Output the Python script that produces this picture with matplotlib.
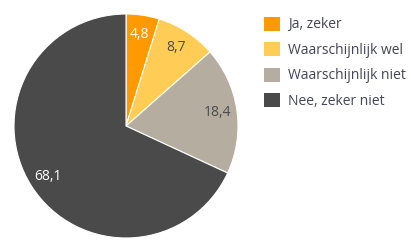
import matplotlib
matplotlib.use("Agg")
import numpy as np
from matplotlib import pyplot as plt
from matplotlib.patches import Patch

labels = ["Ja, zeker", "Waarschijnlijk wel", "Waarschijnlijk niet", "Nee, zeker niet"]
values = [4.8, 8.7, 18.4, 68.1]
value_labels = ["4,8", "8,7", "18,4", "68,1"]
colors = ["#ff9900", "#ffcc55", "#b6ada1", "#4a4a4a"]
label_colors = ["white", "#4a4a4a", "#4a4a4a", "white"]

plt.rcParams["font.family"] = ["Open Sans", "DejaVu Sans"]

fig = plt.figure(figsize=(4.11, 2.52), dpi=100)
ax = fig.add_axes([14 / 411, 14 / 252, 224 / 411, 224 / 252])

wedges, _ = ax.pie(
    values,
    colors=colors,
    startangle=90,
    counterclock=False,
    wedgeprops={"edgecolor": "white", "linewidth": 0.8},
)
ax.set_xlim(-1, 1)
ax.set_ylim(-1, 1)
ax.set_aspect("equal")

total = sum(values)
start = 90.0
for v, txt, c in zip(values, value_labels, label_colors):
    mid = np.deg2rad(start - v / total * 360 / 2)
    start -= v / total * 360
    ax.text(0.83 * np.cos(mid), 0.83 * np.sin(mid), txt, ha="center", va="center",
            color=c, fontsize=10)

handles = [Patch(facecolor=c, edgecolor="none") for c in colors]
leg = fig.legend(handles, labels, loc="upper left", bbox_to_anchor=(251 / 411, 1 - 4 / 252),
                 frameon=False, fontsize=10, handlelength=1.2, handleheight=1.2,
                 handletextpad=0.55, labelspacing=0.7, labelcolor="#44445a")

fig.savefig("out.png", dpi=100)
